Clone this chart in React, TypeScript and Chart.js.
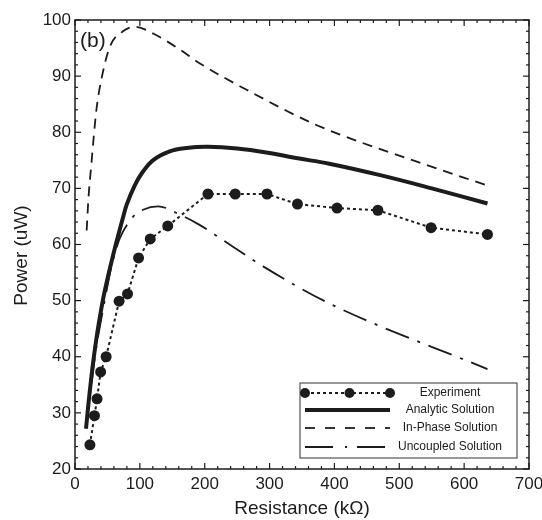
import { useEffect, useRef } from "react";
import { Chart, registerables } from "chart.js";

Chart.register(...registerables);

// Experiment (measured) points
const expR = [23, 30, 34, 39.5, 48, 68, 81, 98, 116, 143, 205, 247, 296, 343, 404, 467, 549, 636];
const expP = [24.3, 29.5, 32.5, 37.3, 40, 49.9, 51.2, 57.6, 61, 63.3, 69, 69, 69, 67.2, 66.5, 66.1, 63, 61.8];
// Analytic solution
const anaR = [17, 22, 28, 34, 40, 46, 59, 74, 80, 92, 103, 120, 146, 172, 205, 250, 295, 341, 392, 469, 550, 636];
const anaP = [27.2, 33, 39, 44, 48.2, 51.8, 58.2, 64.8, 67.2, 70.5, 72.7, 75.0, 76.6, 77.2, 77.4, 77.1, 76.4, 75.4, 74.4, 72.4, 70, 67.3];
// In-phase solution
const inR = [18, 20.6, 25, 33, 41, 54, 74, 92, 122, 162, 192, 269, 372, 526, 636];
const inP = [62.5, 68, 74, 84, 89.6, 95.3, 98, 98.8, 97.5, 94.7, 92.3, 87.3, 81.3, 74.8, 70.5];
// Uncoupled solution
const unR = [17, 24, 32, 45, 57, 63, 69, 90, 105, 128, 162, 192, 228, 290, 392, 636];
const unP = [27.2, 34, 41, 49.5, 56.5, 59, 61.1, 65, 66.2, 66.8, 65.3, 63.5, 60.8, 56.1, 49.5, 37.8];

const seriesLabels = ["Experiment", "Analytic Solution", "In-Phase Solution", "Uncoupled Solution"];
const panelLabel = "(b)";
const xTitle = "Resistance (k\u03A9)";
const yTitle = "Power (uW)";

const zip = (xs: number[], ys: number[]) => xs.map((x, i) => ({ x, y: ys[i] }));

const FONT = "'Liberation Sans', Arial, Helvetica, sans-serif";
const INK = "#1c1c1c";

const decorPlugin = {
  id: "decor",
  afterDatasetsDraw(chart: any) {
    const { ctx, chartArea: a, scales } = chart;
    const xs = scales.x;
    const ys = scales.y;
    ctx.save();
    ctx.strokeStyle = INK;
    ctx.setLineDash([]);
    // frame
    ctx.lineWidth = 1.5;
    ctx.strokeRect(a.left, a.top, a.right - a.left, a.bottom - a.top);
    // inward ticks
    ctx.lineWidth = 1.2;
    const seg = (x1: number, y1: number, x2: number, y2: number) => {
      ctx.beginPath();
      ctx.moveTo(x1, y1);
      ctx.lineTo(x2, y2);
      ctx.stroke();
    };
    for (let v = xs.min; v <= xs.max + 1e-9; v += 20) {
      const px = xs.getPixelForValue(v);
      const major = Math.abs(v % 100) < 1e-6;
      const L = major ? 6 : 3;
      seg(px, a.bottom, px, a.bottom - L);
      seg(px, a.top, px, a.top + L);
    }
    for (let v = ys.min; v <= ys.max + 1e-9; v += 2) {
      const py = ys.getPixelForValue(v);
      const major = Math.abs((v - ys.min) % 10) < 1e-6;
      const L = major ? 6 : 3;
      seg(a.left, py, a.left + L, py);
      seg(a.right, py, a.right - L, py);
    }
    // panel label
    ctx.fillStyle = INK;
    ctx.font = `21px ${FONT}`;
    ctx.textAlign = "left";
    ctx.textBaseline = "middle";
    ctx.fillText(panelLabel, a.left + 5, a.top + 21);

    // y axis title (slightly below the axis centre, as in the reference)
    ctx.save();
    ctx.translate(22, (a.top + a.bottom) / 2 + 11);
    ctx.rotate(-Math.PI / 2);
    ctx.font = `19px ${FONT}`;
    ctx.textAlign = "center";
    ctx.textBaseline = "middle";
    ctx.fillText(yTitle, 0, 0);
    ctx.restore();

    // legend box
    const bx = a.right - 229;
    const by = a.bottom - 86;
    const bw = 217;
    const bh = 75;
    ctx.fillStyle = "#ffffff";
    ctx.fillRect(bx, by, bw, bh);
    ctx.lineWidth = 1;
    ctx.strokeStyle = "#333";
    ctx.strokeRect(bx, by, bw, bh);
    const rows = [10, 27, 45, 64];
    const x0 = bx + 5;
    const x1 = bx + 90;
    chart.data.datasets.forEach((ds: any, i: number) => {
      const y = by + rows[i];
      ctx.strokeStyle = ds.borderColor;
      ctx.lineWidth = ds.borderWidth;
      ctx.setLineDash(ds.legendDash || ds.borderDash || []);
      ctx.lineDashOffset = 0;
      seg(x0, y, x1, y);
      ctx.setLineDash([]);
      if (ds.pointRadius > 0) {
        ctx.fillStyle = ds.pointBackgroundColor;
        [x0, (x0 + x1) / 2 + 2, x1].forEach((px) => {
          ctx.beginPath();
          ctx.arc(px, y, 5, 0, Math.PI * 2);
          ctx.fill();
        });
      }
      ctx.fillStyle = INK;
      ctx.font = `12px ${FONT}`;
      ctx.textAlign = "center";
      ctx.textBaseline = "middle";
      ctx.fillText(ds.label, bx + 150, y);
    });
    ctx.restore();
  },
};

export default function App() {
  const ref = useRef<HTMLCanvasElement | null>(null);

  useEffect(() => {
    document.body.style.margin = "0";
    const canvas = ref.current;
    if (!canvas) return;
    const chart = new Chart(canvas, {
      type: "scatter",
      data: {
        datasets: [
          {
            label: seriesLabels[0],
            data: zip(expR, expP),
            showLine: true,
            borderColor: INK,
            borderWidth: 2,
            borderDash: [3, 3],
            pointRadius: 5.5,
            pointBackgroundColor: INK,
            pointBorderWidth: 0,
            tension: 0,
          } as any,
          {
            label: seriesLabels[1],
            data: zip(anaR, anaP),
            showLine: true,
            borderColor: INK,
            borderWidth: 4,
            pointRadius: 0,
            tension: 0.4,
          },
          {
            label: seriesLabels[2],
            data: zip(inR, inP),
            showLine: true,
            borderColor: INK,
            borderWidth: 1.8,
            borderDash: [10, 7],
            legendDash: [10, 10],
            pointRadius: 0,
            cubicInterpolationMode: "monotone",
          },
          {
            label: seriesLabels[3],
            data: zip(unR, unP),
            showLine: true,
            borderColor: INK,
            borderWidth: 1.8,
            borderDash: [25, 9, 3, 9],
            legendDash: [28, 12, 2, 10],
            pointRadius: 0,
            cubicInterpolationMode: "monotone",
          },
        ],
      },
      options: {
        animation: false,
        responsive: false,
        devicePixelRatio: 1,
        layout: { padding: { top: 20, right: 13, left: 0, bottom: 0 } },
        plugins: { legend: { display: false }, tooltip: { enabled: false } },
        scales: {
          x: {
            type: "linear",
            min: 0,
            max: 700,
            grid: { display: false, drawTicks: false },
            border: { display: false },
            ticks: {
              stepSize: 100,
              padding: 5,
              maxRotation: 0,
              color: INK,
              font: { family: FONT, size: 17 },
            },
            title: {
              display: true,
              text: xTitle,
              color: INK,
              font: { family: FONT, size: 19 },
              padding: { top: 0, bottom: 0 },
            },
            afterFit: (s: any) => {
              s.height = 51;
              s.paddingLeft = 0;
              s.paddingRight = 0;
            },
          },
          y: {
            type: "linear",
            min: 20,
            max: 100,
            grid: { display: false, drawTicks: false },
            border: { display: false },
            ticks: {
              stepSize: 10,
              padding: 4,
              color: INK,
              font: { family: FONT, size: 17 },
            },
            title: { display: false, text: yTitle },
            afterFit: (s: any) => {
              s.width = 75;
              s.paddingTop = 0;
              s.paddingBottom = 0;
            },
          },
        },
      },
      plugins: [decorPlugin],
    });
    return () => chart.destroy();
  }, []);

  return (
    <div style={{ width: 542, height: 520 }}>
      <canvas ref={ref} width={542} height={520} style={{ display: "block" }} />
    </div>
  );
}
